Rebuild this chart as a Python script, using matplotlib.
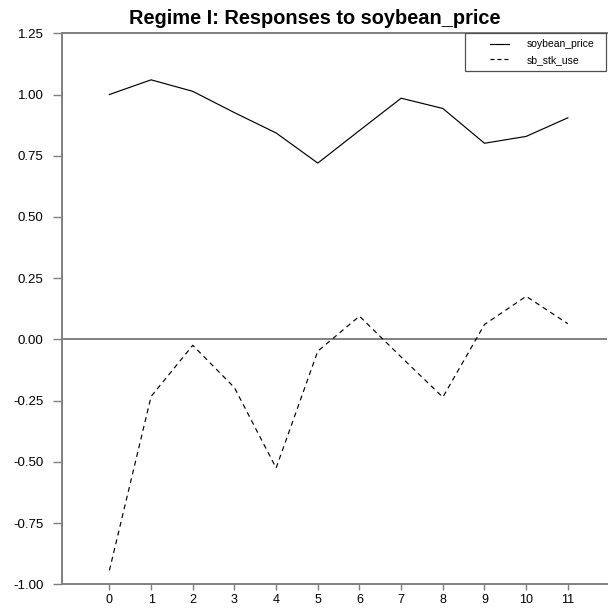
import matplotlib
matplotlib.use("Agg")
import matplotlib.pyplot as plt
from matplotlib.patches import Rectangle

plt.rcParams['font.family'] = ['Liberation Sans', 'DejaVu Sans']

periods = list(range(12))
soybean_price = [1.00, 1.06, 1.013, 0.926, 0.843, 0.72, 0.853, 0.985, 0.943, 0.801, 0.829, 0.905]
sb_stk_use = [-0.943, -0.233, -0.024, -0.197, -0.525, -0.048, 0.095, -0.072, -0.236, 0.061, 0.176, 0.064]
y_ticks = [1.25, 1.00, 0.75, 0.50, 0.25, 0.00, -0.25, -0.50, -0.75, -1.00]

axis_gray = '#808080'
dash = (0, (4.2, 3.4))

fig = plt.figure(figsize=(6.08, 6.11), dpi=100)
ax = fig.add_axes([0.1025, 0.0437, 0.8959, 0.9018])

ax.plot(periods, soybean_price, color='black', lw=0.85, label='soybean_price')
ax.plot(periods, sb_stk_use, color='black', lw=0.85, ls=dash, label='sb_stk_use')
ax.axhline(0, color=axis_gray, lw=1.4, zorder=1)

ax.set_xlim(-1.13, 11.94)
ax.set_ylim(-1.0, 1.25)
ax.set_xticks(periods)
ax.set_yticks(y_ticks)
ax.set_yticklabels([f'{v:.2f}' for v in y_ticks])

for side in ['left', 'bottom', 'top']:
    ax.spines[side].set_color(axis_gray)
    ax.spines[side].set_linewidth(1.4)
ax.spines['right'].set_visible(False)
ax.tick_params(axis='y', direction='out', length=6.5, width=1.0, color=axis_gray,
               labelsize=9.5, pad=7)
ax.tick_params(axis='x', direction='out', length=4.3, width=1.0, color=axis_gray,
               labelsize=9, pad=3)

fig.text(0.517, 0.9607, 'Regime I: Responses to soybean_price', fontsize=14.4,
         fontweight='bold', ha='center', va='baseline')

# legend: text and handles without frame, box drawn separately for the wide left margin
leg = ax.legend(loc='upper left', bbox_to_anchor=(0.785, 0.989), fontsize=7.5,
                frameon=False, borderpad=0, borderaxespad=0, handlelength=1.83,
                handletextpad=1.67, labelspacing=0.54)
leg.get_lines()[1].set_linestyle((0, (3.4, 2.5)))
ax.add_patch(Rectangle((0.739, 0.931), 0.2595, 0.069, transform=ax.transAxes,
                       fill=False, edgecolor='#505050', lw=0.9, clip_on=False, zorder=5))

fig.savefig('out.png', dpi=100)
